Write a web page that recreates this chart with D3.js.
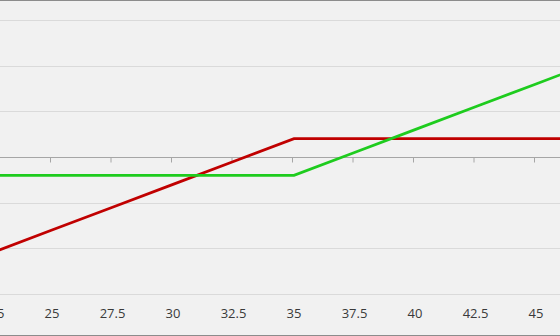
<!DOCTYPE html>
<html>
<head>
<meta charset="utf-8">
<script src="https://cdn.jsdelivr.net/npm/d3@7"></script>
<style>
  body { margin: 0; background: #f1f1f1; }
  svg { display: block; }
</style>
</head>
<body>
<div id="my_dataviz"></div>
<script>
const width = 560
const height = 336

// stock price at expiry (x axis)
const prices = [22.5, 25, 27.5, 30, 32.5, 35, 37.5, 40, 42.5, 45, 47.5]
// short put, strike 35 (red)
const shortPut = [-10.5, -8, -5.5, -3, -0.5, 2, 2, 2, 2, 2, 2]
// long call, strike 35 (green)
const longCall = [-2, -2, -2, -2, -2, -2, 0.5, 3, 5.5, 8, 10.5]
const xTicks = [22.5, 25, 27.5, 30, 32.5, 35, 37.5, 40, 42.5, 45]
const yGrid = [-15, -10, -5, 5, 10, 15]

var svg = d3.select("#my_dataviz").append("svg")
    .attr("width", width)
    .attr("height", height)

svg.append("rect")
    .attr("width", width)
    .attr("height", height)
    .attr("fill", "#f1f1f1")

var xScale = d3.scaleLinear().domain([25, 45]).range([52, 536])
var yScale = d3.scaleLinear().domain([-15, 15]).range([294, 20])

// gridlines
svg.selectAll("line.grid")
    .data(yGrid)
    .join("line")
        .attr("class", "grid")
        .attr("x1", 0)
        .attr("x2", width)
        .attr("y1", d => Math.round(yScale(d)) + 0.5)
        .attr("y2", d => Math.round(yScale(d)) + 0.5)
        .attr("stroke", "#dadada")
        .attr("stroke-width", 1)

// zero axis with ticks
var xAxis = svg.append("g")
    .attr("transform", "translate(-2," + (Math.round(yScale(0)) + 0.5) + ")")
    .call(d3.axisBottom(xScale).tickValues(xTicks).tickSize(5).tickFormat(""))
xAxis.select(".domain").attr("stroke", "#a6a6a6").attr("d", "M-10,0H" + (width + 10))
xAxis.selectAll(".tick line").attr("stroke", "#a6a6a6")

// tick labels along bottom
svg.selectAll("text.xlab")
    .data(xTicks)
    .join("text")
        .attr("class", "xlab")
        .attr("x", d => xScale(d))
        .attr("y", 318)
        .attr("text-anchor", "middle")
        .attr("font-family", "Open Sans, sans-serif")
        .attr("font-size", "13px")
        .attr("fill", "#3a3a3a")
        .text(d => d)

var line = d3.line()
    .x(d => xScale(d[0]))
    .y(d => yScale(d[1]))

svg.append("path")
    .datum(prices.map((p, i) => [p, shortPut[i]]))
    .attr("d", line)
    .attr("fill", "none")
    .attr("stroke", "#c00000")
    .attr("stroke-width", 2.75)

svg.append("path")
    .datum(prices.map((p, i) => [p, longCall[i]]))
    .attr("d", line)
    .attr("fill", "none")
    .attr("stroke", "#1ecc1e")
    .attr("stroke-width", 2.75)

// chart border (top/bottom edges visible in crop)
svg.append("line")
    .attr("x1", 0).attr("x2", width)
    .attr("y1", 0.5).attr("y2", 0.5)
    .attr("stroke", "#8c8c8c")
svg.append("line")
    .attr("x1", 0).attr("x2", width)
    .attr("y1", height - 0.5).attr("y2", height - 0.5)
    .attr("stroke", "#8c8c8c")
</script>
</body>
</html>
